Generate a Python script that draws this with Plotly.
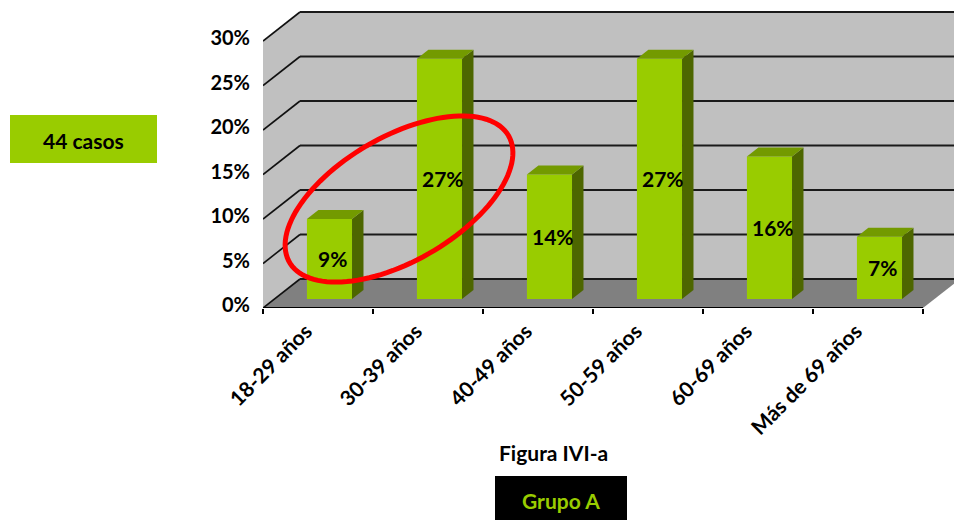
import numpy as np
import plotly.graph_objects as go

# Distribución por grupo de edad (44 casos)
categories = ["18-29 años", "30-39 años", "40-49 años", "50-59 años", "60-69 años", "Más de 69 años"]
porcentajes = [9, 27, 14, 27, 16, 7]
y_ticks = [0, 5, 10, 15, 20, 25, 30]
y_tick_labels = ["0%", "5%", "10%", "15%", "20%", "25%", "30%"]

W, H = 954, 520
ML, MB = 263, 212
PLOT_W, PLOT_H = W - ML, H - MB
PX_X = 110.0        # pixels per category slot
PX_Y = 8.9          # pixels per percentage point
X0 = -0.5
x_range = [X0, X0 + PLOT_W / PX_X]
y_range = [0, PLOT_H / PX_Y]
XEND = len(categories) - 0.5
YTOP = y_ticks[-1]

# depth of the 3-D box, in axis units
DX = 37 / PX_X
DY = 29 / PX_Y
# the columns sit between these fractions of the depth
F1, F2 = 0.31, 0.62
BAR_W = 0.41

FRONT = "#99CC00"
TOP = "#739A00"
SIDE = "#4D6600"
WALL = "#C0C0C0"
FLOOR = "#808080"
FONT = "Lato"

idx = np.arange(len(categories))
xc = idx + F1 * DX
base = F1 * DY
ddx = (F2 - F1) * DX
ddy = (F2 - F1) * DY

shapes = []

# side wall, back wall and floor
shapes.append(dict(type="path", layer="below", xref="x", yref="y",
                   path=f"M {X0},0 L {X0},{YTOP} L {X0+DX},{YTOP+DY} L {X0+DX},{DY} Z",
                   fillcolor=WALL, line=dict(width=0)))
shapes.append(dict(type="rect", layer="below", xref="x", yref="y",
                   x0=X0 + DX, x1=XEND + DX, y0=DY, y1=YTOP + DY,
                   fillcolor=WALL, line=dict(width=0)))
shapes.append(dict(type="path", layer="below", xref="x", yref="y",
                   path=f"M {X0},0 L {XEND},0 L {XEND+DX},{DY} L {X0+DX},{DY} Z",
                   fillcolor=FLOOR, line=dict(width=0)))

# gridlines: diagonal on the side wall, horizontal on the back wall
for v in y_ticks:
    shapes.append(dict(type="line", layer="below", xref="x", yref="y",
                       x0=X0, y0=v, x1=X0 + DX, y1=v + DY,
                       line=dict(color="#111111", width=1.6)))
    shapes.append(dict(type="line", layer="below", xref="x", yref="y",
                       x0=X0 + DX, y0=v + DY, x1=XEND + DX, y1=v + DY,
                       line=dict(color="#1a1a1a", width=2.2)))

# category axis line along the front of the floor
shapes.append(dict(type="line", layer="above", xref="x", yref="y",
                   x0=X0, y0=0, x1=XEND, y1=0, line=dict(color="black", width=2)))

# side and top faces of each column
for x, v in zip(xc, porcentajes):
    xl, xr = x - BAR_W / 2, x + BAR_W / 2
    shapes.append(dict(type="path", layer="above", xref="x", yref="y",
                       path=(f"M {xr},{base} L {xr},{base+v} L {xr+ddx},{base+v+ddy} "
                             f"L {xr+ddx},{base+ddy} Z"),
                       fillcolor=SIDE, line=dict(width=0)))
    shapes.append(dict(type="path", layer="above", xref="x", yref="y",
                       path=(f"M {xl},{base+v} L {xr},{base+v} L {xr+ddx},{base+v+ddy} "
                             f"L {xl+ddx},{base+v+ddy} Z"),
                       fillcolor=TOP, line=dict(width=0)))

# red highlight ellipse around the two youngest groups
cx_px, cy_px, a_px, b_px, th = 399, 199, 126.5, 62.2, np.deg2rad(-30)
t = np.linspace(0, 2 * np.pi, 120)
ex = cx_px + a_px * np.cos(t) * np.cos(th) - b_px * np.sin(t) * np.sin(th)
ey = cy_px + a_px * np.cos(t) * np.sin(th) + b_px * np.sin(t) * np.cos(th)
ex_d = X0 + (ex - ML) / PX_X
ey_d = (PLOT_H - ey) / PX_Y
ell = "M " + " L ".join(f"{a:.4f},{b:.4f}" for a, b in zip(ex_d, ey_d)) + " Z"
shapes.append(dict(type="path", layer="above", xref="x", yref="y", path=ell,
                   line=dict(color="#FF0000", width=5)))


def px_to_paper(px, py):
    return (px - ML) / PLOT_W, (PLOT_H - py) / PLOT_H


# "44 casos" and "Grupo A" boxes
for (x0p, y0p, x1p, y1p, col) in [(10, 115, 157, 163, FRONT), (495, 476, 627, 530, "black")]:
    a0, b0 = px_to_paper(x0p, y1p)
    a1, b1 = px_to_paper(x1p, y0p)
    shapes.append(dict(type="rect", xref="paper", yref="paper", x0=a0, y0=b0, x1=a1, y1=b1,
                       fillcolor=col, line=dict(width=0), layer="above"))

annotations = []
for x, v in zip(xc, porcentajes):
    annotations.append(dict(x=x + 0.03, y=base + v / 2, xref="x", yref="y", text=f"{v}%",
                            showarrow=False,
                            font=dict(family=FONT, size=21, color="black", weight="bold")))

for (px, py, txt, col) in [(83, 140, "44 casos", "black"),
                           (553, 452, "Figura IVI-a", "black"),
                           (561, 500, "Grupo A", FRONT)]:
    ax_, ay_ = px_to_paper(px, py)
    annotations.append(dict(x=ax_, y=ay_, xref="paper", yref="paper", text=txt,
                            showarrow=False, xanchor="center", yanchor="middle",
                            font=dict(family=FONT, size=21, color=col, weight="bold")))

fig = go.Figure()
fig.add_trace(go.Bar(x=xc, y=porcentajes, base=base, width=BAR_W,
                     marker=dict(color=FRONT, line=dict(width=0)),
                     hoverinfo="skip", showlegend=False))

fig.update_layout(
    width=W, height=H,
    margin=dict(l=ML, r=0, t=0, b=MB, pad=0),
    paper_bgcolor="white", plot_bgcolor="white",
    shapes=shapes, annotations=annotations, showlegend=False,
    xaxis=dict(range=x_range, tickvals=list(idx), ticktext=categories, tickangle=-45,
               ticks="", showgrid=False, zeroline=False, showline=False,
               ticklabelshift=-12, ticklabelstandoff=6,
               tickfont=dict(family=FONT, size=21, color="black", weight="bold"),
               minor=dict(tickvals=list(np.arange(len(categories) + 1) - 0.5),
                          ticks="outside", ticklen=5, tickwidth=2, tickcolor="black",
                          showgrid=False)),
    yaxis=dict(range=y_range, tickvals=y_ticks, ticktext=y_tick_labels,
               ticks="outside", ticklen=8, tickcolor="rgba(0,0,0,0)",
               ticklabelshift=-3,
               showgrid=False, zeroline=False, showline=False,
               tickfont=dict(family=FONT, size=20, color="black", weight="bold")),
)

fig.write_html("out.html")
